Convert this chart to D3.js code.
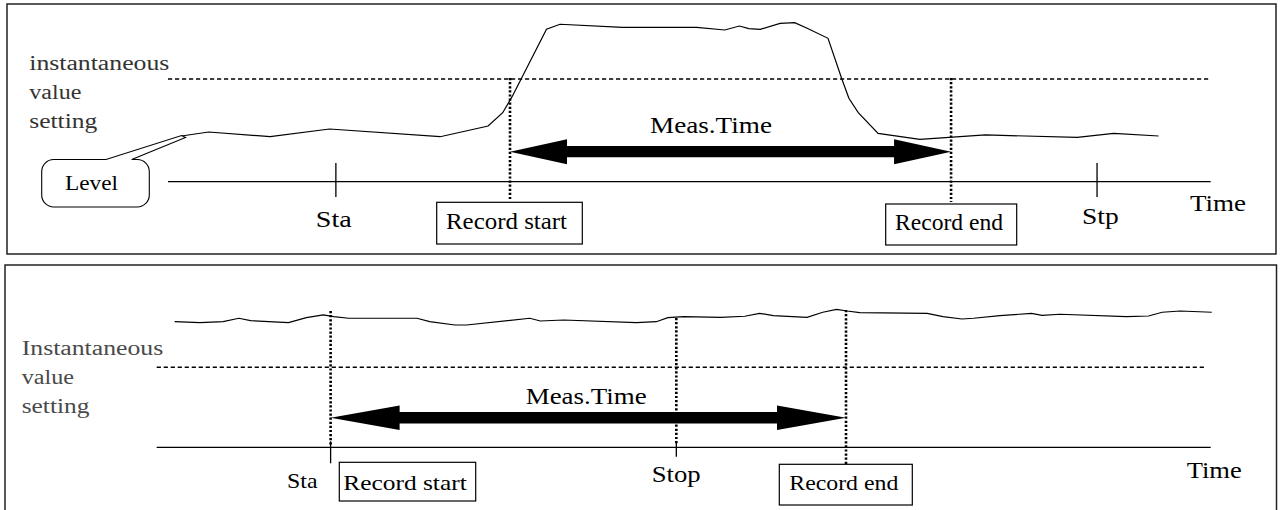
<!DOCTYPE html>
<html><head><meta charset="utf-8">
<script src="https://cdn.jsdelivr.net/npm/d3@7"></script>
<style>body{margin:0;background:#fff}svg{display:block}text{font-family:"Liberation Serif","Times New Roman",serif}</style>
</head><body>
<script>
// ---------- data ----------
// Upper chart: time 0..100 along the time axis, level 0 = axis, 100 = instantaneous value setting
const topTime  = [1.3,3.9,9.8,15.5,26.1,30.7,32.1,33.0,36.3,37.6,43.6,50.7,53.4,54.8,55.7,56.8,58.7,60.1,61.3,63.3,64.6,65.3,66.2,68.1,72.1,78.4,87.2,90.7,95.0];
const topLevel = [44.5,48.4,43.8,51.3,43.8,54.2,67.2,82.8,148.4,153.3,150.3,150.3,147.7,151.6,149.0,148.4,154.2,154.8,149.4,139.6,100.7,81.2,67.2,47.1,41.3,45.5,43.2,47.1,44.5];
const topEventNames = ["Sta","Record start","Record end","Stp"];
const topEventTimes = [16.1,32.8,75.1,89.1];

// Lower chart
const botTime  = [1.7,4.1,6.3,7.8,8.9,12.5,14.2,15.8,16.8,18.2,24.7,25.9,28.3,29.4,35.4,36.4,38.6,45.5,47.4,48.5,50.0,53.5,55.8,57.2,58.5,61.7,63.2,64.5,65.5,66.7,73.1,74.6,76.4,77.5,80.0,83.0,84.0,85.7,92.0,94.1,95.4,97.1,100.1];
const botLevel = [157.0,155.8,157.0,161.3,158.3,155.8,162.0,165.4,163.3,161.3,161.3,157.0,152.9,152.9,161.3,157.9,159.1,155.8,157.0,162.0,163.3,162.5,163.8,167.5,164.5,162.5,168.8,172.5,170.4,168.3,167.5,163.3,160.4,161.3,164.5,167.5,165.0,166.3,163.3,164.1,168.8,170.4,168.8];
const botEventNames = ["Sta","Stop","Record end"];
const botEventTimes = [16.5,49.3,65.4];

// ---------- drawing ----------
const W = 1282, H = 510;
const svg = d3.select("body").append("svg").attr("width", W).attr("height", H);

function label(txt, x, y, w, size, fill) {
  return svg.append("text").attr("x", x).attr("y", y)
    .attr("font-size", size).attr("fill", fill || "#000")
    .attr("textLength", w).attr("lengthAdjust", "spacingAndGlyphs")
    .text(txt);
}
function hline(x1, x2, y, dash, sw) {
  svg.append("line").attr("x1", x1).attr("x2", x2).attr("y1", y).attr("y2", y)
    .attr("stroke", "#000").attr("stroke-width", sw || 1.3)
    .attr("stroke-dasharray", dash || null);
}
function vline(x, y1, y2, dotted) {
  svg.append("line").attr("x1", x).attr("x2", x).attr("y1", y1).attr("y2", y2)
    .attr("stroke", "#000")
    .attr("stroke-width", dotted ? 2.6 : 1.3)
    .attr("stroke-dasharray", dotted ? "2.2,1.9" : null);
}
function box(x, y, w, h) {
  svg.append("rect").attr("x", x).attr("y", y).attr("width", w).attr("height", h)
    .attr("fill", "#fff").attr("stroke", "#000").attr("stroke-width", 1.2);
}
function dblArrow(x1, x2, y, hl, hh, sh) {
  const p = d3.path();
  p.moveTo(x1, y);
  p.lineTo(x1 + hl, y - hh); p.lineTo(x1 + hl, y - sh);
  p.lineTo(x2 - hl, y - sh); p.lineTo(x2 - hl, y - hh);
  p.lineTo(x2, y);
  p.lineTo(x2 - hl, y + hh); p.lineTo(x2 - hl, y + sh);
  p.lineTo(x1 + hl, y + sh); p.lineTo(x1 + hl, y + hh);
  p.closePath();
  svg.append("path").attr("d", p.toString()).attr("fill", "#000");
}

// panels
svg.append("rect").attr("x", 7).attr("y", 4).attr("width", 1269).attr("height", 250)
  .attr("fill", "none").attr("stroke", "#222").attr("stroke-width", 1.5);
svg.append("rect").attr("x", 5).attr("y", 265).attr("width", 1271.5).attr("height", 260)
  .attr("fill", "none").attr("stroke", "#222").attr("stroke-width", 1.5);

// ===== upper chart =====
const xT = d3.scaleLinear().domain([0, 100]).range([168, 1210.7]);
const yT = d3.scaleLinear().domain([0, 100]).range([181.7, 79]);

label("instantaneous", 29.3, 70, 140, 20, "#333");
label("value", 29.3, 99, 52, 20, "#333");
label("setting", 29.3, 127.7, 68, 20, "#333");

hline(xT(0), xT(99.8), yT(100), "4.2,2.8", 1.4);
hline(xT(0), xT(100), yT(0));

const lineT = d3.line().x(d => xT(d[0])).y(d => yT(d[1]));
svg.append("path").datum(d3.zip(topTime, topLevel)).attr("d", lineT)
  .attr("fill", "none").attr("stroke", "#000").attr("stroke-width", 1.2);

// Sta / Stp ticks
[0, 3].forEach(i => vline(xT(topEventTimes[i]), yT(0) - 18.7, yT(0) + 15.3, false));
label(topEventNames[0], xT(topEventTimes[0]) - 20, 227, 36, 23);
label(topEventNames[3], xT(topEventTimes[3]) - 15, 223.5, 36.7, 23);

// Record start / end
const rsT = xT(topEventTimes[1]), reT = xT(topEventTimes[2]);
vline(rsT, yT(100) - 1, 201, true);
vline(reT, yT(100) - 1, 202, true);
box(436.7, 202.3, 145.6, 41.7);
label(topEventNames[1], 446, 229.3, 121, 23);
box(885.7, 204, 131, 41);
label(topEventNames[2], 895, 230, 108, 23);

dblArrow(rsT, reT, yT(0) - 30, 57, 12.5, 5.6);
label("Meas.Time", 650, 133.3, 122, 22.5);
label("Time", 1190, 210.7, 56, 23);

// Level callout
{
  const tx = xT(topTime[0]), ty = yT(topLevel[0]);
  const x0 = 41.7, x1 = 149.3, y0 = 159.5, y1 = 207, r = 12;
  const p = d3.path();
  p.moveTo(131.7, y0);
  p.lineTo(x1 - r, y0); p.arcTo(x1, y0, x1, y0 + r, r);
  p.lineTo(x1, y1 - r); p.arcTo(x1, y1, x1 - r, y1, r);
  p.lineTo(x0 + r, y1); p.arcTo(x0, y1, x0, y1 - r, r);
  p.lineTo(x0, y0 + r); p.arcTo(x0, y0, x0 + r, y0, r);
  p.lineTo(106, y0);
  p.lineTo(tx, ty - 0.5);
  p.lineTo(tx + 4, ty + 1.5);
  p.closePath();
  svg.append("path").attr("d", p.toString()).attr("fill", "#fff")
    .attr("stroke", "#000").attr("stroke-width", 1.1);
  label("Level", 65, 190, 53, 22);
}

// ===== lower chart =====
const xB = d3.scaleLinear().domain([0, 100]).range([156.7, 1210.7]);
const yB = d3.scaleLinear().domain([0, 100]).range([447.3, 367.3]);

label("Instantaneous", 21.7, 355, 141.6, 20, "#4a4a4a");
label("value", 21.7, 384.3, 52.3, 20, "#4a4a4a");
label("setting", 21.7, 413.3, 67.7, 20, "#4a4a4a");

hline(xB(0), xB(99.6), yB(100), "4.2,2.8", 1.4);
hline(xB(0), xB(100), yB(0));

const lineB = d3.line().x(d => xB(d[0])).y(d => yB(d[1]));
svg.append("path").datum(d3.zip(botTime, botLevel)).attr("d", lineB)
  .attr("fill", "none").attr("stroke", "#000").attr("stroke-width", 1.2);

const staB = xB(botEventTimes[0]), stopB = xB(botEventTimes[1]), reB = xB(botEventTimes[2]);
vline(staB, yB(0) - 6, yB(0) + 16, false);
vline(stopB, yB(0) - 6, yB(0) + 9.5, false);
vline(staB, 311, yB(0) - 2, true);
vline(stopB, 318, yB(0) - 4, true);
vline(reB, 310, 465, true);

dblArrow(staB, reB, yB(0) - 29.6, 69, 12.2, 5.8);
label("Meas.Time", 525.7, 404, 121, 22.5);

label(botEventNames[0], 287, 488, 30.5, 22);
box(339.3, 462.3, 136.4, 38.7);
label("Record start", 343.3, 490, 123.4, 22);
label(botEventNames[1], 651.7, 481.7, 49, 23);
box(779.3, 464.3, 133, 40.7);
label(botEventNames[2], 789.3, 490, 109, 22);
label("Time", 1186.7, 477.7, 55, 23);
</script>
</body></html>
